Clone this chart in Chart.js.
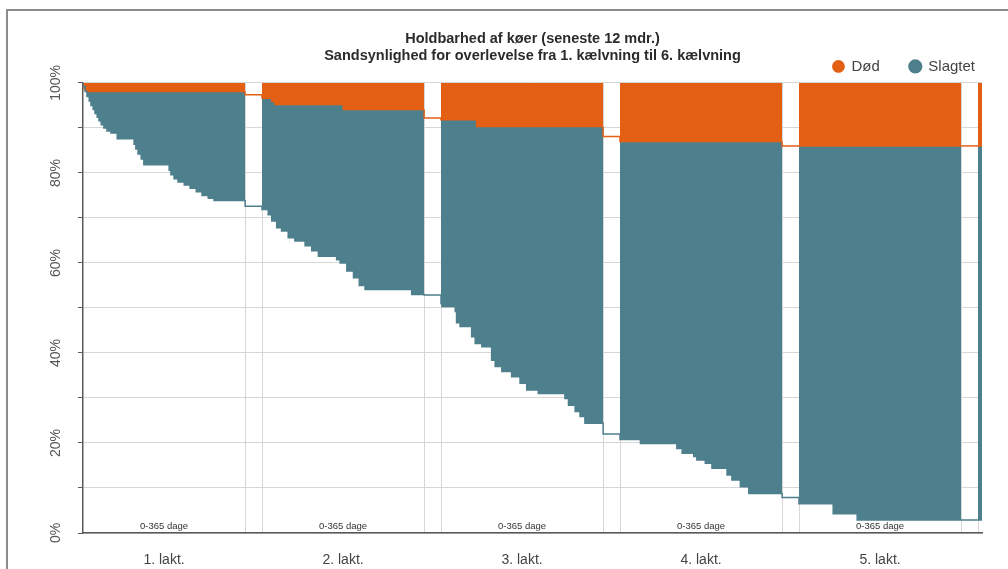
<!DOCTYPE html>
<html lang="da">
<head>
<meta charset="utf-8">
<title>Holdbarhed af køer</title>
<script src="https://cdn.jsdelivr.net/npm/chart.js@4.4.1/dist/chart.umd.min.js"></script>
<style>
    html, body { margin: 0; padding: 0; background: #fff; }
    body { width: 1008px; height: 569px; overflow: hidden; position: relative; }
    #ramme { position: absolute; left: 6px; top: 9px; width: 1100px; height: 700px;
             border-left: 2px solid #8c8c8c; border-top: 2px solid #8c8c8c; }
    #boks { position: absolute; left: 0; top: 0; width: 1008px; height: 569px; }
</style>
</head>
<body>
<div id="ramme"></div>
<div id="boks"><canvas id="graf"></canvas></div>
<script>
// Holdbarhed af køer - overlevelse fra 1. til 6. kælvning
const LAKT_DAGE = 365;          // dage pr. laktation
const MELLEMRUM = 38;           // tomt felt mellem laktationerne (i dage)
const PERIODE = LAKT_DAGE + MELLEMRUM;
const X_MAX = 5 * PERIODE + 9;  // lille stump af 6. laktation til sidst

const laktationer = ['1. lakt.', '2. lakt.', '3. lakt.', '4. lakt.', '5. lakt.'];
const periodeTekst = '0-365 dage';

// overlevende køer i % - [dag i laktationen, andel]
const overlevLakt1 = [[0, 100], [5, 99.2], [9, 98.1], [14, 97], [18, 96], [23, 95], [27, 94.1], [32, 93.2],
    [36, 92.4], [41, 91.6], [47, 90.7], [54, 90], [63, 89.3], [77, 88.9], [115, 87.6], [119, 86.4],
    [124, 85.3], [131, 84.2], [137, 83.1], [194, 81.8], [198, 80.6], [205, 79.6], [214, 78.7],
    [228, 78], [241, 77.3], [255, 76.6], [268, 75.8], [282, 75], [295, 74.4], [306, 73.9]];
const overlevLakt2 = [[0, 72.6], [14, 71.9], [22, 70.7], [33, 69.3], [44, 67.8], [59, 67.1], [74, 65.6],
    [97, 64.9], [112, 63.8], [127, 62.7], [168, 61.5], [176, 60.7], [191, 60], [206, 58.2],
    [219, 56.7], [232, 55], [337, 54.1], [352, 53]];
const overlevLakt3 = [[0, 52.9], [2, 51], [32, 50.3], [35, 49.2], [43, 46.7], [69, 45.9], [77, 43.6],
    [92, 42.1], [114, 41.4], [122, 38.4], [137, 37], [159, 35.9], [178, 34.7], [193, 33.3],
    [219, 31.8], [279, 31], [287, 29.9], [302, 28.4], [313, 27], [324, 25.9], [351, 24.4]];
const overlevLakt4 = [[0, 22], [46, 20.8], [128, 19.9], [140, 18.8], [166, 17.7], [173, 17], [192, 16.2],
    [207, 15.5], [241, 14.4], [252, 12.9], [271, 11.8], [290, 10.3], [301, 8.8]];
const overlevLakt5 = [[0, 7.9], [77, 6.5], [131, 4.3], [261, 2.9]];
const overlevLakt6 = [[0, 2.9]];

// døde køer, akkumuleret i % - [dag i laktationen, andel]
const doedLakt1 = [[0, 0], [3, 0.8], [7, 1.5], [11, 1.9]];
const doedLakt2 = [[0, 2.6], [22, 3.4], [29, 4.1], [183, 4.8], [345, 5.9]];
const doedLakt3 = [[0, 7.8], [80, 8.2], [313, 9.7]];
const doedLakt4 = [[0, 11.9], [288, 13]];
const doedLakt5 = [[0, 14]];
const doedLakt6 = [[0, 14]];

const overlevListe = [overlevLakt1, overlevLakt2, overlevLakt3, overlevLakt4, overlevLakt5, overlevLakt6];
const doedListe = [doedLakt1, doedLakt2, doedLakt3, doedLakt4, doedLakt5, doedLakt6];

const ORANGE = '#e35f13';
const TEAL = '#4e7f8c';
const GITTER = '#d6d6d6';
const AKSE = '#595959';
const USYNLIG = 'rgba(0,0,0,0)';

// trin-punkter på en fælles x-akse (dage), laktation for laktation
function trinPunkter(lister, fn) {
    const punkter = [];
    lister.forEach((liste, k) => {
        const start = k * PERIODE;
        liste.forEach(([dag, v]) => punkter.push({ x: start + dag, y: fn(v) }));
        const slut = k < 5 ? start + LAKT_DAGE : X_MAX;
        punkter.push({ x: slut, y: fn(liste[liste.length - 1][1]) });
    });
    return punkter;
}

// stykket mellem to laktationer skal ikke fyldes
const iMellemrum = (c) => (c.p0.parsed.x % PERIODE) >= LAKT_DAGE;
const erMidte = (v) => (v % PERIODE) === LAKT_DAGE / 2;

// "0-365 dage" nederst i hvert felt
const dageTekst = {
    id: 'dageTekst',
    afterDatasetsDraw(chart) {
        const { ctx, scales: { x, y } } = chart;
        ctx.save();
        ctx.font = '9.5px "Liberation Sans", Arial, sans-serif';
        ctx.fillStyle = '#333';
        ctx.textAlign = 'center';
        ctx.textBaseline = 'middle';
        laktationer.forEach((_, k) => {
            ctx.fillText(periodeTekst, x.getPixelForValue(k * PERIODE + LAKT_DAGE / 2), y.getPixelForValue(0) - 7);
        });
        ctx.restore();
    }
};

// legenden står ved siden af anden titellinje
const legendePlads = {
    id: 'legendePlads',
    beforeLayout(chart) {
        const lg = chart.legend;
        if (lg && !lg._tilpasset) {
            const fit = lg.fit;
            lg.fit = function () { fit.call(this); this.height = 54; };
            lg._tilpasset = true;
        }
    },
    afterLayout(chart) {
        chart.legend.left += 23;
        chart.legend.right += 23;
    }
};

Chart.defaults.font.family = '"Liberation Sans", Arial, sans-serif';

const ctx = document.getElementById('graf');

new Chart(ctx, {
    type: 'line',
    data: {
        datasets: [{
            label: 'Overlevende',
            data: trinPunkter(overlevListe, v => v),
            stepped: 'after',
            fill: false,
            borderColor: TEAL,
            borderWidth: 1.5,
            pointRadius: 0
        }, {
            label: 'Slagtet',
            data: trinPunkter(doedListe, v => 100 - v),
            stepped: 'after',
            fill: '-1',
            backgroundColor: TEAL,
            borderColor: TEAL,
            borderWidth: 1.5,
            pointRadius: 0,
            segment: {
                borderColor: ORANGE,
                backgroundColor: c => iMellemrum(c) ? USYNLIG : TEAL
            }
        }, {
            label: 'Død',
            data: trinPunkter(doedListe, () => 100),
            stepped: 'after',
            fill: '-1',
            backgroundColor: ORANGE,
            borderColor: USYNLIG,
            borderWidth: 0,
            pointRadius: 0,
            segment: {
                backgroundColor: c => iMellemrum(c) ? USYNLIG : ORANGE
            }
        }]
    },
    options: {
        responsive: true,
        maintainAspectRatio: false,
        animation: false,
        layout: { padding: { left: 0, right: 26, top: 0, bottom: 0 } },
        plugins: {
            title: {
                display: true,
                fullSize: false,
                text: ['Holdbarhed af køer (seneste 12 mdr.)',
                       'Sandsynlighed for overlevelse fra 1. kælvning til 6. kælvning'],
                color: '#2b2b2b',
                font: { size: 14.5, weight: 'bold', lineHeight: 1.17 },
                padding: { top: 31, bottom: -36 }
            },
            legend: {
                display: true,
                position: 'top',
                align: 'end',
                fullSize: false,
                reverse: true,
                labels: {
                    filter: item => item.datasetIndex > 0,
                    usePointStyle: true,
                    pointStyle: 'circle',
                    boxWidth: 11,
                    boxHeight: 9,
                    padding: 30,
                    color: '#444',
                    font: { size: 15 }
                }
            },
            tooltip: { enabled: false }
        },
        scales: {
            x: {
                type: 'linear',
                min: 0,
                max: X_MAX,
                afterBuildTicks(scale) {
                    const v = [];
                    laktationer.forEach((_, k) => {
                        v.push(k * PERIODE + LAKT_DAGE / 2, k * PERIODE + LAKT_DAGE, (k + 1) * PERIODE);
                    });
                    scale.ticks = v.map(value => ({ value }));
                },
                afterFit(scale) { scale.height = 36; },
                ticks: {
                    autoSkip: false,
                    maxRotation: 0,
                    padding: 19,
                    color: '#444',
                    font: { size: 14 },
                    callback: v => erMidte(v) ? laktationer[Math.floor(v / PERIODE)] : ''
                },
                grid: {
                    drawTicks: false,
                    color: c => (c.tick && erMidte(c.tick.value)) ? USYNLIG : GITTER
                },
                border: { color: AKSE, width: 1.5 }
            },
            y: {
                min: 0,
                max: 100,
                afterFit(scale) { scale.width = 83; },
                ticks: {
                    stepSize: 10,
                    minRotation: 90,
                    maxRotation: 90,
                    crossAlign: 'center',
                    padding: 4,
                    color: '#555',
                    font: { size: 14 },
                    callback: v => v % 20 === 0 ? v + '%' : ''
                },
                grid: { color: GITTER, tickColor: AKSE, tickLength: 5 },
                border: { color: AKSE, width: 1.5 }
            }
        }
    },
    plugins: [dageTekst, legendePlads]
});
</script>
</body>
</html>
